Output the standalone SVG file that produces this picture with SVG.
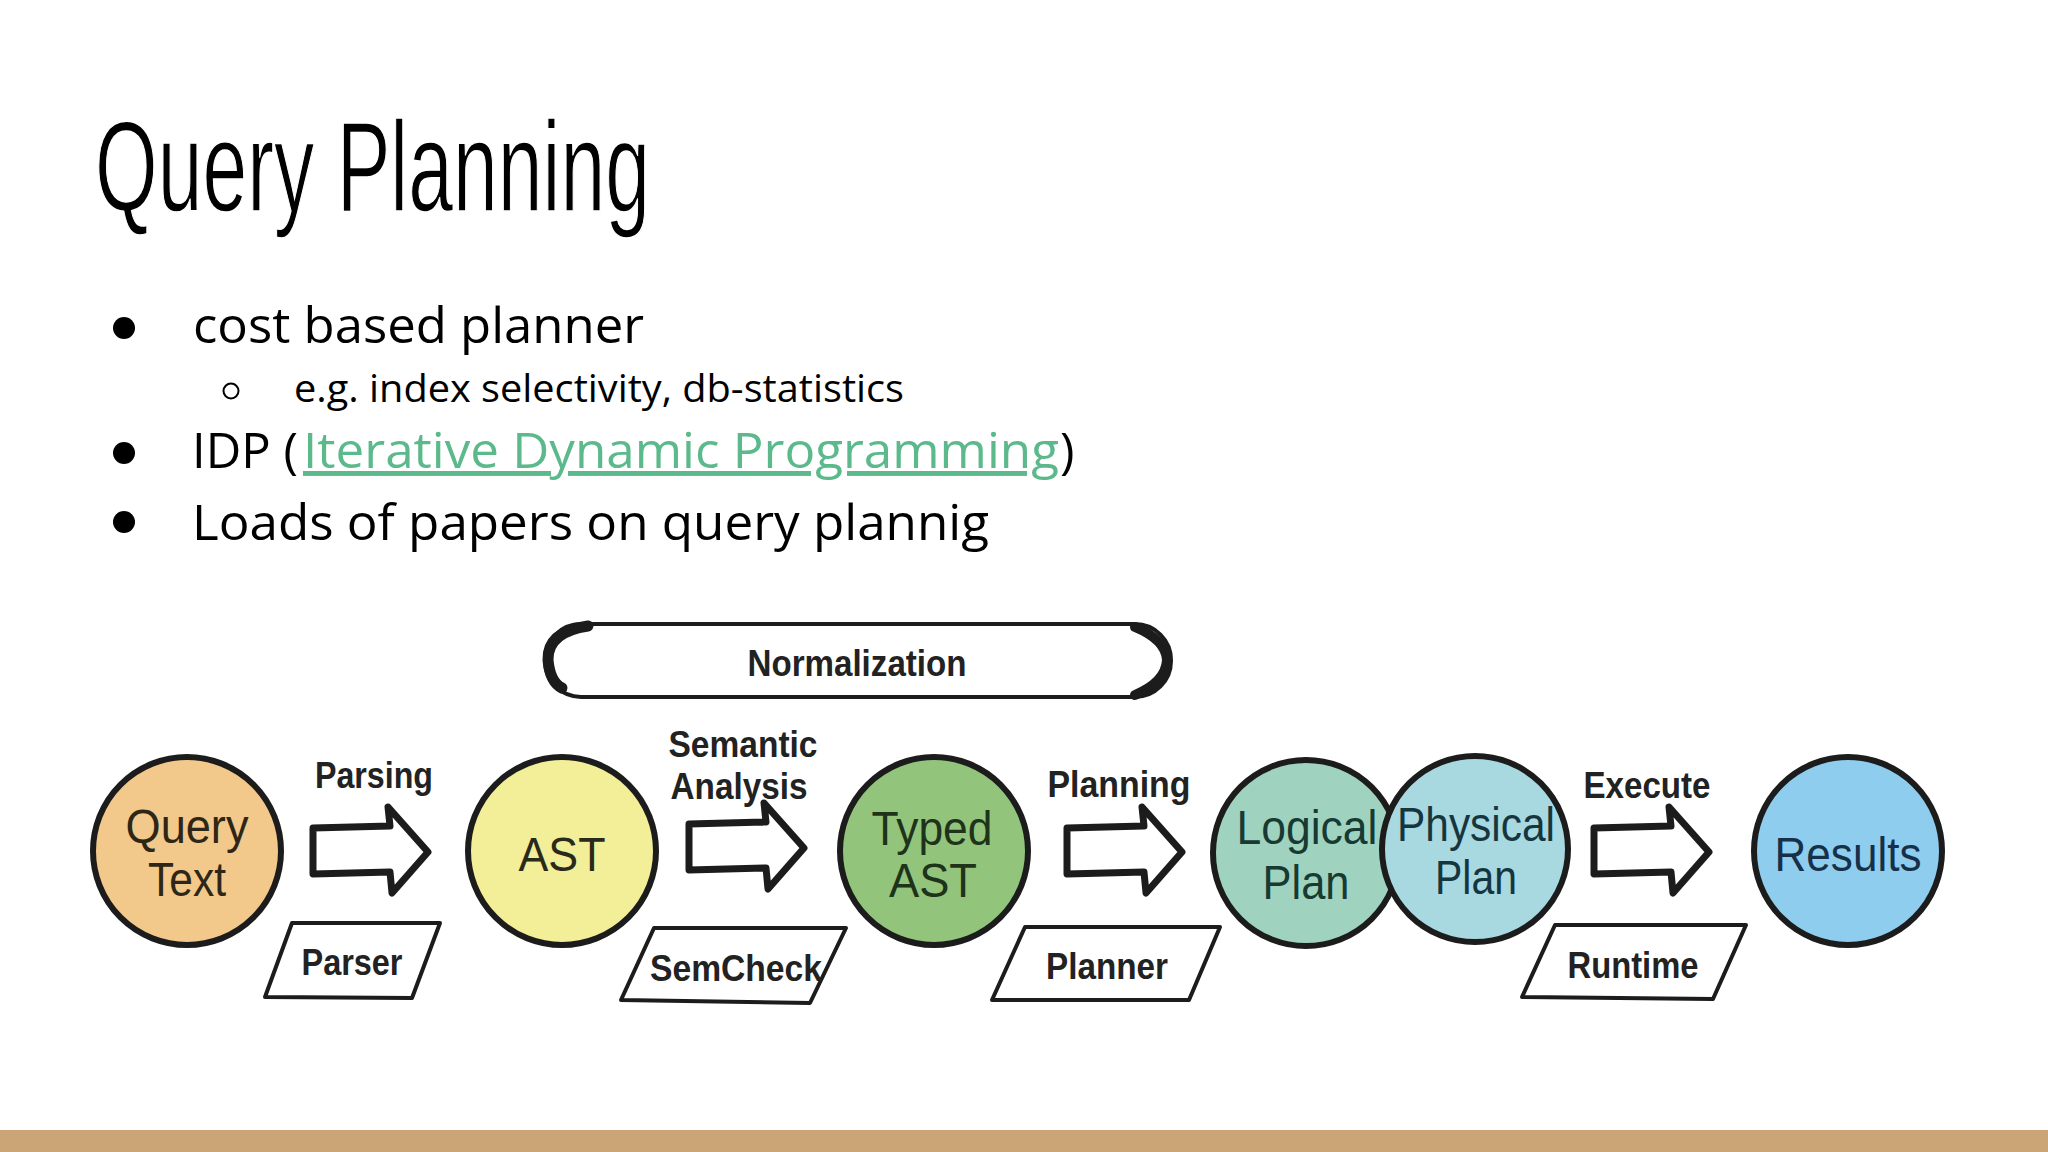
<svg xmlns="http://www.w3.org/2000/svg" width="2048" height="1152" viewBox="0 0 2048 1152">
<style>
.title{font-family:"Liberation Sans",Arial,sans-serif;font-size:128px;fill:#000;stroke:#fff;stroke-width:1.5}
.body{font-family:"Open Sans","Noto Sans",sans-serif;font-size:49px;fill:#000}
.sub{font-family:"Open Sans","Noto Sans",sans-serif;font-size:38px;fill:#000}
.link{fill:#5bb98b;text-decoration:underline}
.node{stroke:#1c1c1c;stroke-width:6}
.ntext{font-family:"Liberation Sans",Arial,sans-serif;font-size:49px;text-anchor:middle}
.lbl{font-family:"Liberation Sans",Arial,sans-serif;font-size:36px;font-weight:bold;fill:#222;text-anchor:middle}
.para{fill:#fff;stroke:#1c1c1c;stroke-width:4;stroke-linejoin:round}
.arrow{fill:#fff;stroke:#1c1c1c;stroke-width:7;stroke-linejoin:round}
</style>
<defs>
<path id="blockArrow" d="M313,828 L390,826 L388,807 L428,852 L392,893 L390,872 L313,874 Z"/>
</defs>
<rect width="2048" height="1152" fill="#fff"/>
<rect x="0" y="1130" width="2048" height="22" fill="#cca576"/>

<text class="title" x="95" y="211" textLength="555" lengthAdjust="spacingAndGlyphs">Query Planning</text>

<g id="bullets">
<circle cx="124" cy="328" r="11" fill="#000"/>
<text class="body" x="193" y="343" textLength="451" lengthAdjust="spacingAndGlyphs">cost based planner</text>
<circle cx="231" cy="391" r="7.5" fill="none" stroke="#000" stroke-width="2"/>
<text class="sub" x="294" y="402" textLength="610" lengthAdjust="spacingAndGlyphs">e.g. index selectivity, db-statistics</text>
<circle cx="124" cy="453" r="11" fill="#000"/>
<text class="body" x="192" y="468">IDP (</text>
<text class="body link" x="303" y="468" textLength="756" lengthAdjust="spacingAndGlyphs">Iterative Dynamic Programming</text>
<text class="body" x="1060" y="468">)</text>
<circle cx="124" cy="522" r="11" fill="#000"/>
<text class="body" x="192" y="540" textLength="797" lengthAdjust="spacingAndGlyphs">Loads of papers on query plannig</text>
</g>

<g id="normalization">
<rect x="545" y="624" width="626" height="73" rx="36" ry="36" fill="#fff" stroke="#1c1c1c" stroke-width="4"/>
<path d="M588,626 Q547,632 548,660 Q550,682 562,688" fill="none" stroke="#1c1c1c" stroke-width="11" stroke-linecap="round"/>
<path d="M1135,627 Q1166,640 1167,660 Q1166,682 1135,695" fill="none" stroke="#1c1c1c" stroke-width="10" stroke-linecap="round"/>
<text class="lbl" x="857" y="676" textLength="219" lengthAdjust="spacingAndGlyphs">Normalization</text>
</g>

<g id="connectors">
<use href="#blockArrow" class="arrow"/>
<use href="#blockArrow" class="arrow" transform="translate(376,-4)"/>
<use href="#blockArrow" class="arrow" transform="translate(754,0)"/>
<use href="#blockArrow" class="arrow" transform="translate(1281,0)"/>
<text class="lbl" x="374" y="788" textLength="118" lengthAdjust="spacingAndGlyphs">Parsing</text>
<text class="lbl" x="743" y="757" textLength="149" lengthAdjust="spacingAndGlyphs">Semantic</text>
<text class="lbl" x="739" y="799" textLength="137" lengthAdjust="spacingAndGlyphs">Analysis</text>
<text class="lbl" x="1119" y="797" textLength="143" lengthAdjust="spacingAndGlyphs">Planning</text>
<text class="lbl" x="1647" y="798" textLength="127" lengthAdjust="spacingAndGlyphs">Execute</text>
</g>

<g id="node-query-text">
<circle class="node" cx="187" cy="851" r="94" fill="#f2c98a"/>
<text class="ntext" x="187" y="843" fill="#2e2616" textLength="123" lengthAdjust="spacingAndGlyphs">Query</text>
<text class="ntext" x="187" y="896" fill="#2e2616" textLength="78" lengthAdjust="spacingAndGlyphs">Text</text>
</g>
<g id="node-ast">
<circle class="node" cx="562" cy="851" r="94" fill="#f3ee98"/>
<text class="ntext" x="562" y="871" fill="#2a2a1a" textLength="87" lengthAdjust="spacingAndGlyphs">AST</text>
</g>
<g id="node-typed-ast">
<circle class="node" cx="934" cy="851" r="94" fill="#92c47c"/>
<text class="ntext" x="932" y="845" fill="#1e331a" textLength="121" lengthAdjust="spacingAndGlyphs">Typed</text>
<text class="ntext" x="933" y="897" fill="#1e331a" textLength="88" lengthAdjust="spacingAndGlyphs">AST</text>
</g>
<g id="node-logical-plan">
<circle class="node" cx="1306" cy="853" r="93" fill="#9fd3bf"/>
<text class="ntext" x="1307" y="844" fill="#173a33" textLength="141" lengthAdjust="spacingAndGlyphs">Logical</text>
<text class="ntext" x="1306" y="899" fill="#173a33" textLength="87" lengthAdjust="spacingAndGlyphs">Plan</text>
</g>
<g id="node-physical-plan">
<circle class="node" cx="1475" cy="849" r="93" fill="#a8d8e0"/>
<text class="ntext" x="1476" y="841" fill="#15363f" textLength="158" lengthAdjust="spacingAndGlyphs">Physical</text>
<text class="ntext" x="1476" y="894" fill="#15363f" textLength="82" lengthAdjust="spacingAndGlyphs">Plan</text>
</g>
<g id="node-results">
<circle class="node" cx="1848" cy="851" r="94" fill="#8ecdee"/>
<text class="ntext" x="1848" y="871" fill="#16304a" textLength="147" lengthAdjust="spacingAndGlyphs">Results</text>
</g>

<g id="node-parser">
<path class="para" d="M292,923 L440,923 L412,998 L265,997 Z"/>
<text class="lbl" x="352" y="975" textLength="101" lengthAdjust="spacingAndGlyphs">Parser</text>
</g>
<g id="node-semcheck">
<path class="para" d="M654,928 L846,928 L810,1003 L621,1000 Z"/>
<text class="lbl" x="736" y="981" textLength="172" lengthAdjust="spacingAndGlyphs">SemCheck</text>
</g>
<g id="node-planner">
<path class="para" d="M1025,927 L1220,927 L1189,1000 L992,1000 Z"/>
<text class="lbl" x="1107" y="979" textLength="122" lengthAdjust="spacingAndGlyphs">Planner</text>
</g>
<g id="node-runtime">
<path class="para" d="M1555,925 L1746,925 L1713,999 L1522,997 Z"/>
<text class="lbl" x="1633" y="978" textLength="131" lengthAdjust="spacingAndGlyphs">Runtime</text>
</g>
</svg>
